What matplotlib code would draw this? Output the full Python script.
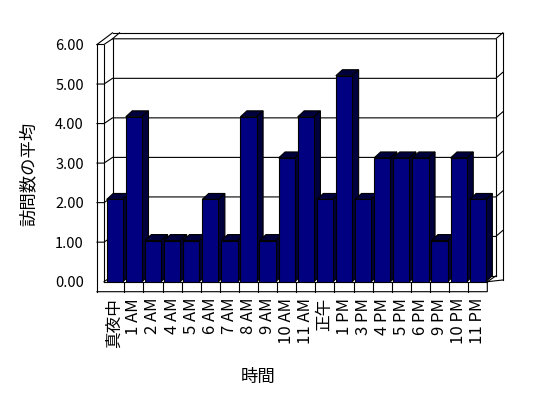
import numpy as np
import matplotlib.pyplot as plt
from matplotlib.patches import Polygon

plt.rcParams['font.family'] = ['Noto Sans CJK JP', 'DejaVu Sans']

# データ
hours = ['真夜中', '1 AM', '2 AM', '4 AM', '5 AM', '6 AM', '7 AM', '8 AM', '9 AM',
         '10 AM', '11 AM', '正午', '1 PM', '3 PM', '4 PM', '5 PM', '6 PM',
         '9 PM', '10 PM', '11 PM']
visits = [2.08, 4.17, 1.04, 1.04, 1.04, 2.08, 1.04, 4.17, 1.04, 3.13,
          4.17, 2.08, 5.21, 2.08, 3.13, 3.13, 3.13, 1.04, 3.13, 2.08]
yticks = [0, 1, 2, 3, 4, 5, 6]

W, H = 548, 398
fig = plt.figure(figsize=(W / 100, H / 100), dpi=100)

# front plane of the plot (pixels)
px0, px1 = 105.2, 487.3
py0, py1 = 281.7, 44.5
ax = fig.add_axes([px0 / W, 1 - py0 / H, (px1 - px0) / W, (py0 - py1) / H])
n = len(hours)
ymax = yticks[-1]
ax.set_xlim(0, n)
ax.set_ylim(0, ymax)
for s in ax.spines.values():
    s.set_visible(False)
ax.patch.set_visible(False)

sx = (px1 - px0) / n
sy = (py0 - py1) / ymax
def d(dx, dy):
    # pixel offset -> data offset (dy up)
    return dx / sx, dy / sy

dx, dy = d(8.5, 5.7)      # depth of the floor
tx, ty = d(7, 6)          # thickness of the back wall
L0 = d(-8.2, 0)[0]        # outer edge of the left wall
L1 = d(-1.2, 0)[0]        # inner edge of the left wall
FB = -d(0, 10)[1]         # bottom of the floor
R = n

kw = dict(color='black', lw=0.8, clip_on=False, zorder=1,
          solid_joinstyle='miter')

def line(xs, ys):
    ax.plot(xs, ys, **kw)

# gridlines (front of left wall -> side of wall -> back wall -> right edge)
for v in yticks[1:]:
    line([L0, L1, L1 + dx, R + dx, R + dx + tx],
         [v, v, v + dy, v + dy, v + dy + ty])

# left wall
line([L0, L0], [FB, ymax])
line([L1, L1], [0, ymax])
line([L1, L1 + dx], [0, dy])
line([L1 + dx, L1 + dx], [dy, ymax + dy])
line([L0, L0 + dx + tx], [ymax, ymax + dy + ty])
line([L1 + dx, L1 + dx + tx], [ymax + dy, ymax + dy + ty])
line([L0 + dx + tx, R + dx + tx], [ymax + dy + ty, ymax + dy + ty])

# back wall and right edge
line([L1 + dx, R + dx], [dy, dy])
line([R + dx, R + dx], [dy, ymax + dy])
line([R + dx + tx, R + dx + tx], [FB + dy + ty, ymax + dy + ty])
line([R, R + dx], [0, dy])

# floor
line([L1, R], [0, 0])
line([L0, R, R, R + dx + tx], [FB, FB, 0, FB + dy + ty])
for i in range(1, n):
    line([i, i], [FB, 0])

# bars
x = np.arange(n) + 0.5
bw = 0.85
bdx, bdy = d(6.5, 6)
bars = ax.bar(x, visits, width=bw, color='#000080', edgecolor='black',
              linewidth=0.8, zorder=3)
for i, (b, v) in enumerate(zip(bars, visits)):
    xl, xr = x[i] - bw / 2, x[i] + bw / 2
    b.set_zorder(11 + 2 * i)
    top = Polygon([(xl, v), (xr, v), (xr + bdx, v + bdy), (xl + bdx, v + bdy)],
                  closed=True, facecolor='#00003c', edgecolor='black',
                  linewidth=0.8, zorder=10 + 2 * i, clip_on=False)
    side = Polygon([(xr, 0), (xr, v), (xr + bdx, v + bdy), (xr + bdx, bdy)],
                   closed=True, facecolor='#00003c', edgecolor='black',
                   linewidth=0.8, zorder=10 + 2 * i, clip_on=False)
    ax.add_patch(top)
    ax.add_patch(side)

# ticks
ax.set_yticks(yticks, [f'{v:.2f}' for v in yticks], fontsize=10.5)
ax.set_xticks(x, hours, rotation=90, fontsize=12)
ax.tick_params(axis='y', length=0, pad=15.3)
ax.tick_params(axis='x', length=0, pad=11.7)

ax.set_xlabel('時間', fontsize=12.5, va='center')
ax.xaxis.set_label_coords(0.40, -0.403)
ax.set_ylabel('訪問数の平均', fontsize=12.5, va='center')
ax.yaxis.set_label_coords(-0.201, 0.456)

fig.savefig('out.png', dpi=100)
